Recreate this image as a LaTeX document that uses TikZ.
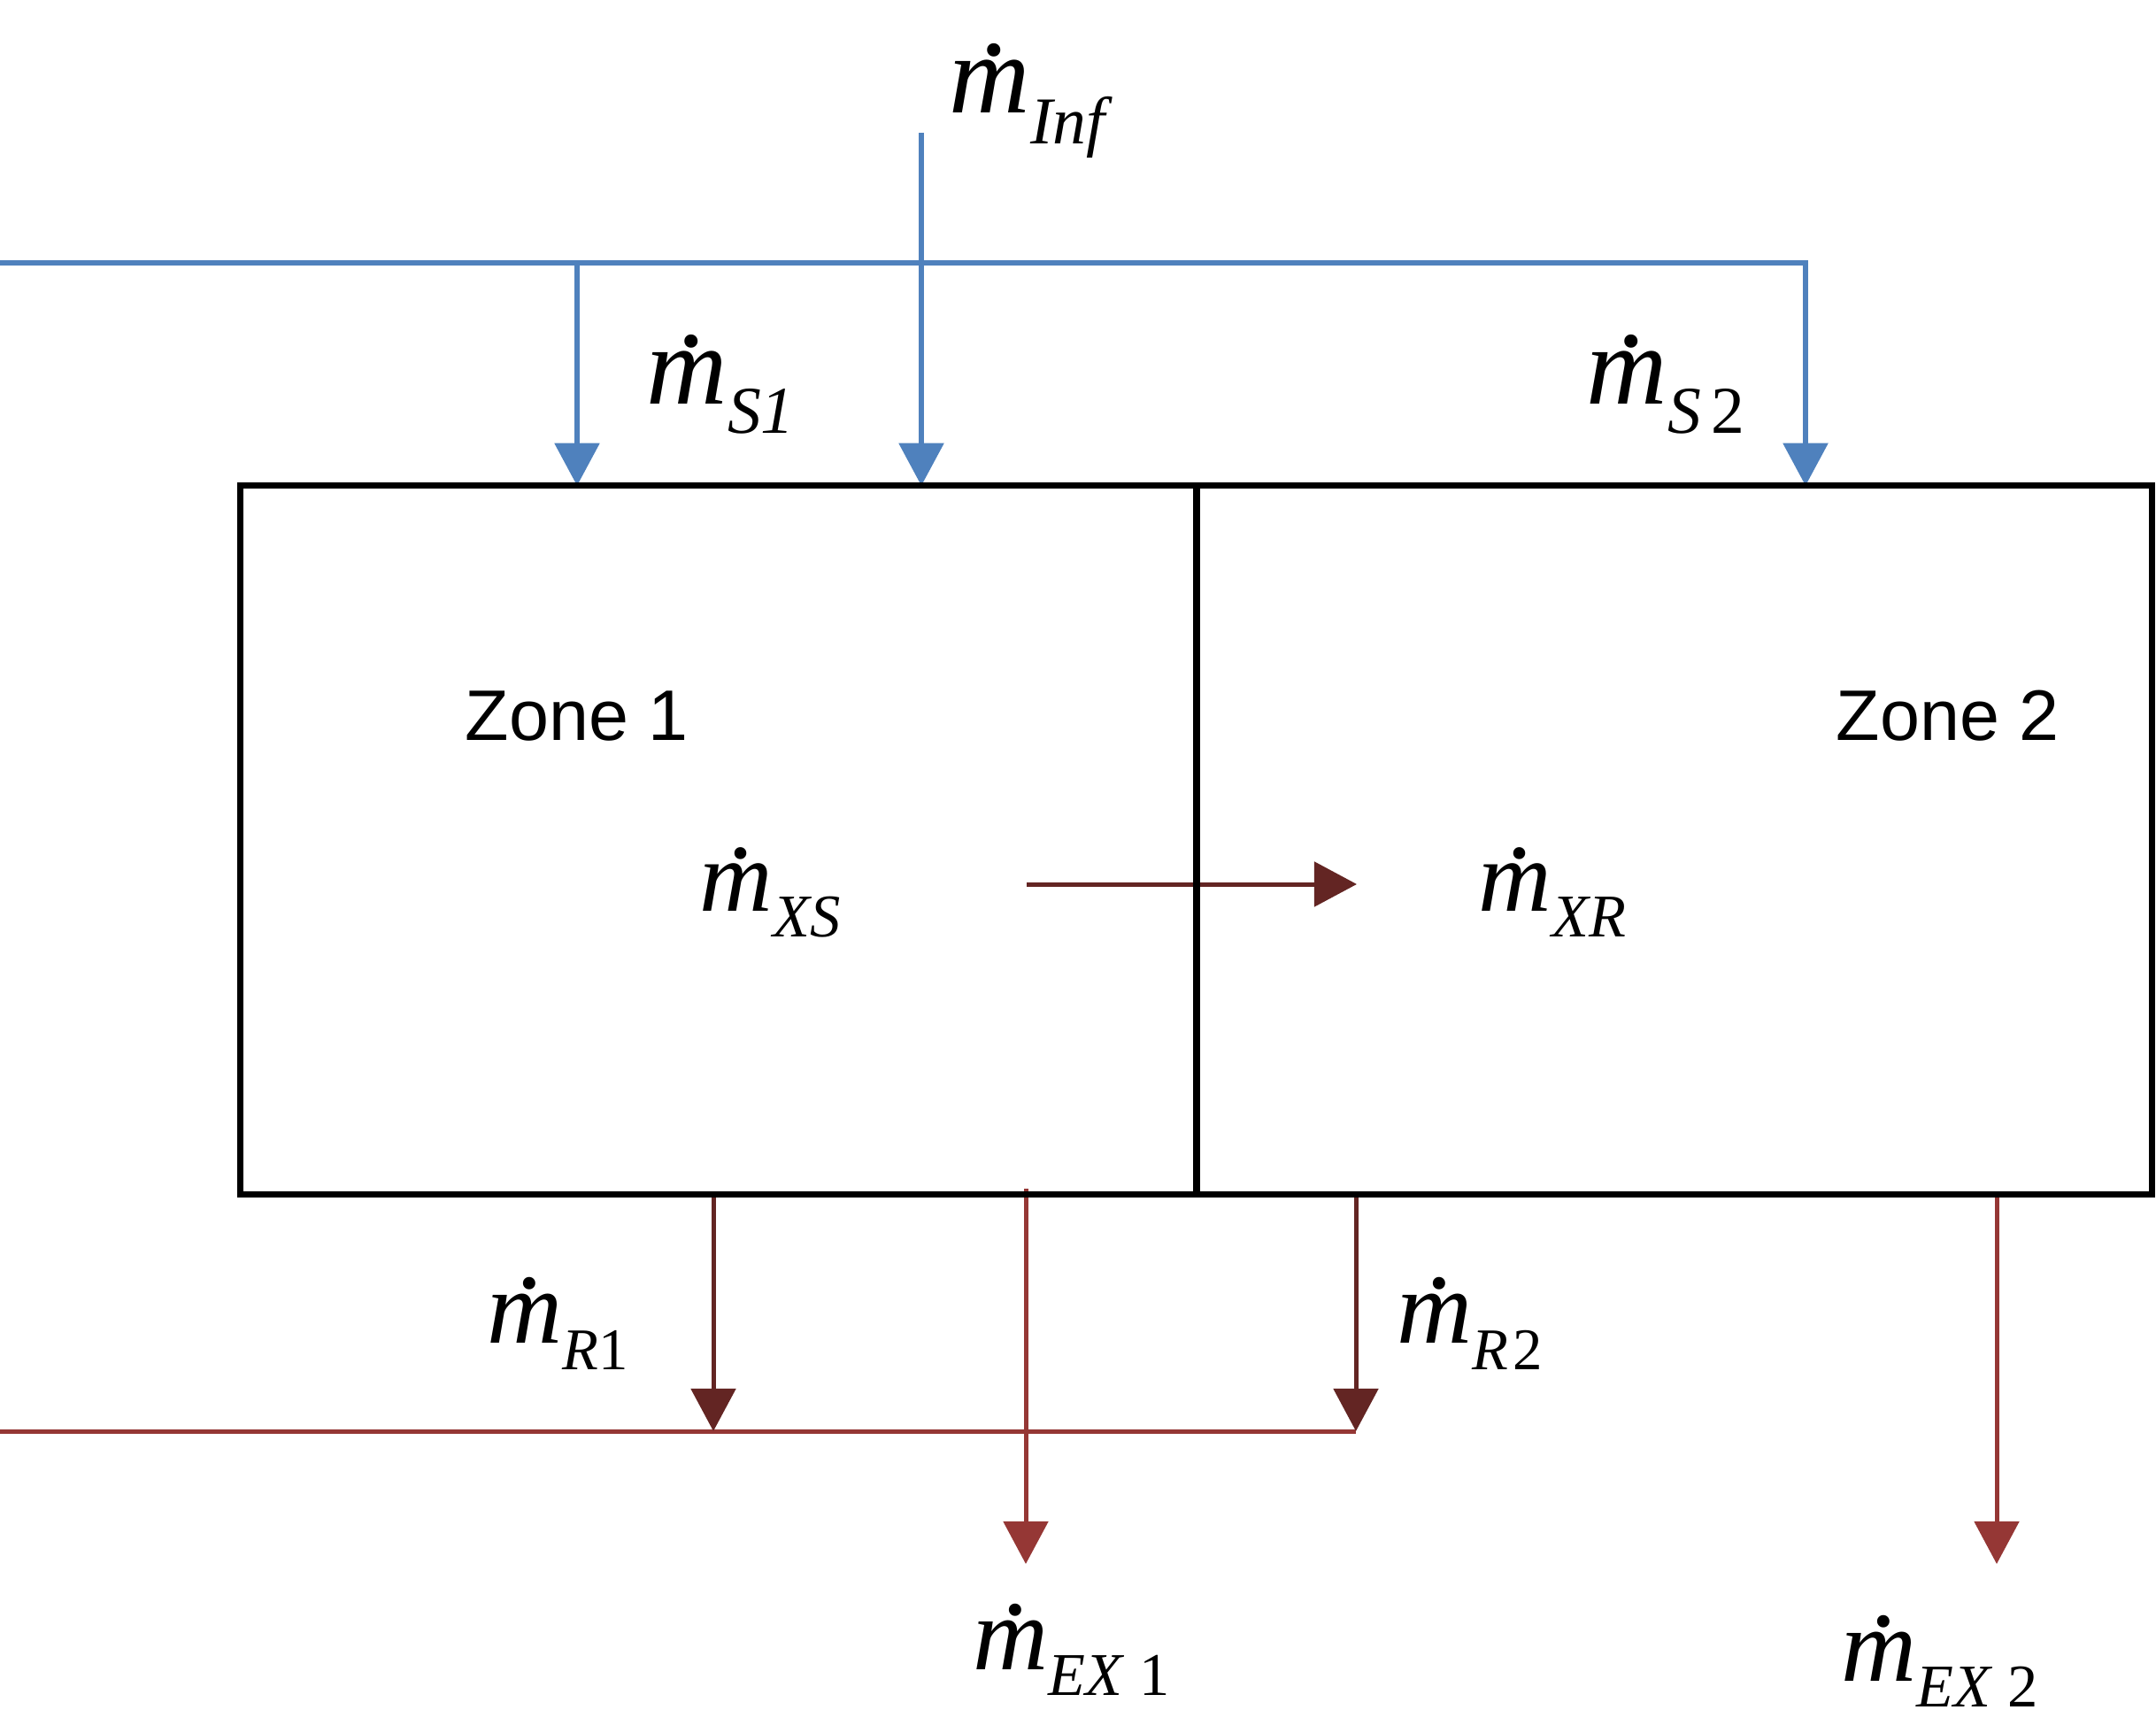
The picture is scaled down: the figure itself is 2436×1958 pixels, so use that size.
\documentclass[tikz,border=0pt]{standalone}
\usepackage{fontspec}
\setmainfont{Liberation Serif}
\newfontfamily\zonefont{Liberation Sans}
\usetikzlibrary{arrows.meta}
\definecolor{flowblue}{HTML}{4F81BD}
\definecolor{darkred}{HTML}{632523}
\definecolor{exred}{HTML}{953735}
\newcommand\mdot[1]{{\fontsize{#1}{#1}\selectfont\itshape\makebox[0pt][l]{\hspace{0.3em}\raisebox{0.52em}{.}}m}}
\newcommand\mysub[3]{\raisebox{-#1}{\fontsize{#2}{#2}\selectfont\itshape #3}}
\begin{document}
\begin{tikzpicture}[x=0.01cm,y=-0.01cm,
  flow/.style={line width=0.055cm},
  redflow/.style={line width=0.05cm},
  tipA/.style={-{Triangle[width=0.5cm,length=0.48cm]}},
  zonebox/.style={draw=black, line width=0.073cm, outer sep=0pt, inner sep=0pt, minimum height=8cm},
  lab/.style={inner sep=0pt, anchor=base west},
  zonelabel/.style={inner sep=0pt, anchor=base west, font=\zonefont\fontsize{23}{23}\selectfont}]
\useasboundingbox (0,0) rectangle (2436,1958);
% coordinates
\coordinate (bl) at (0,297);
\coordinate (s1) at (652,297);
\coordinate (s2c) at (2040,297);
\coordinate (inf) at (1041,150);
\coordinate (rl) at (0,1617);
\coordinate (r1) at (806,1349);
\coordinate (r2) at (1532,1349);
\coordinate (r2e) at (1532,1617);
\coordinate (ex1) at (1159,1343);
\coordinate (ex1e) at (1159,1767);
\coordinate (ex2) at (2256,1349);
\coordinate (ex2e) at (2256,1767);
\coordinate (xs) at (1160,999);
\coordinate (xse) at (1533,999);
% box positions (drawn later, on top of the lines)
\path (812,949) node[minimum width=10.8cm, minimum height=8cm, outer sep=0pt, inner sep=0pt] (z1) {};
\path (1891.5,949) node[minimum width=10.79cm, minimum height=8cm, outer sep=0pt, inner sep=0pt] (z2) {};
% blue supply lines
\draw[flow, flowblue, tipA] (bl) -- (s2c) -- (s2c |- z2.north);
\draw[flow, flowblue, tipA] (s1) -- (s1 |- z1.north);
\draw[flow, flowblue, tipA] (inf) -- (inf |- z1.north);
% red return / exhaust lines
\draw[redflow, exred] (rl) -- (r2e);
\draw[redflow, darkred, tipA] (r1) -- (r1 |- rl);
\draw[redflow, darkred, tipA] (r2) -- (r2e);
\draw[redflow, exred, tipA] (ex1) -- (ex1e);
\draw[redflow, exred, tipA] (ex2) -- (ex2e);
\draw[redflow, darkred, tipA] (xs) -- (xse);
% zone boxes
\node[zonebox, minimum width=10.8cm] (zone1) at (812,949) {};
\node[zonebox, minimum width=10.79cm] (zone2) at (1891.5,949) {};
% labels
\node[zonelabel] (zl1) at (525,836) {Zone 1};
\node[zonelabel] (zl2) at (2074,836) {Zone 2};
\node[lab] (linf) at (1072,128) {\mdot{36}\mysub{0.34cm}{21.5}{Inf}};
\node[lab] (ls1) at (730,457) {\mdot{36}\mysub{0.32cm}{21.5}{S1}};
\node[lab] (ls2) at (1792,457) {\mdot{36}\mysub{0.32cm}{21.5}{S\hspace{0.15em}\textup{2}}};
\node[lab] (lxs) at (790,1029) {\mdot{32.5}\mysub{0.29cm}{19.5}{XS}};
\node[lab] (lxr) at (1670,1029) {\mdot{32.5}\mysub{0.29cm}{19.5}{XR}};
\node[lab] (lr1) at (550,1517) {\mdot{33.5}\mysub{0.30cm}{19}{R\textup{1}}};
\node[lab] (lr2) at (1578,1517) {\mdot{33.5}\mysub{0.30cm}{19}{R\hspace{0.08em}\textup{2}}};
\node[lab] (lex1) at (1099,1886) {\mdot{33.5}\mysub{0.29cm}{19.5}{EX\hspace{0.25em}\textup{1}}};
\node[lab] (lex2) at (2080,1899) {\mdot{33.5}\mysub{0.29cm}{19.5}{EX\hspace{0.25em}\textup{2}}};
\end{tikzpicture}
\end{document}
